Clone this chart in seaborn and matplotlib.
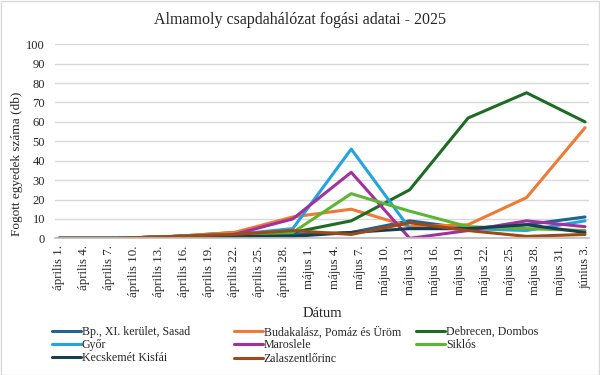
import pandas as pd
import matplotlib.pyplot as plt
import seaborn as sns
from matplotlib.patches import Rectangle

# weekly trap counts, 2025
dates = ['2025-04-01', '2025-04-08', '2025-04-15', '2025-04-22', '2025-04-29',
         '2025-05-06', '2025-05-13', '2025-05-20', '2025-05-27', '2025-06-03']

bp_sasad = [0, 0, 1, 3, 2, 3, 9, 5, 7, 11]
budakalasz = [0, 0, 1, 3, 11, 15, 6, 7, 21, 57]
debrecen = [0, 0, 1, 1, 3, 9, 25, 62, 75, 60]
gyor = [0, 0, 1, 2, 5, 46, 5, 5, 4, 9]
maroslele = [0, 0, 1, 2, 10, 34, 0, 4, 9, 6]
siklos = [0, 0, 1, 2, 3, 23, 14, 6, 5, 4]
kecskemet = [0, 0, 0, 1, 1, 3, 5, 5, 7, 3]
zalaszentlorinc = [0, 0, 1, 2, 4, 2, 8, 4, 1, 2]

sites = ['Bp., XI. kerület, Sasad', 'Budakalász, Pomáz és Üröm', 'Debrecen, Dombos',
         'Győr', 'Maroslele', 'Siklós', 'Kecskemét Kisfái', 'Zalaszentlőrinc']
counts = [bp_sasad, budakalasz, debrecen, gyor, maroslele, siklos, kecskemet, zalaszentlorinc]
colors = ['#1F6494', '#EE7A34', '#1E6B24', '#22A4DE', '#A3309E', '#5DB534', '#173E52', '#9E4A16']

tick_labels = ['április 1.', 'április 4.', 'április 7.', 'április 10.', 'április 13.',
               'április 16.', 'április 19.', 'április 22.', 'április 25.', 'április 28.',
               'május 1.', 'május 4.', 'május 7.', 'május 10.', 'május 13.', 'május 16.',
               'május 19.', 'május 22.', 'május 25.', 'május 28.', 'május 31.', 'június 3.']

start = pd.Timestamp('2025-04-01')
day = [(pd.Timestamp(d) - start).days for d in dates]

df = pd.DataFrame({
    'nap': day * len(sites),
    'db': sum(counts, []),
    'hely': [s for s in sites for _ in dates],
})

sns.set_theme(style="white")
plt.rcParams['font.family'] = ['Liberation Serif', 'DejaVu Serif']

fig, ax = plt.subplots(figsize=(6, 3.75), dpi=100)
fig.subplots_adjust(left=0.0913, right=0.982, top=0.882, bottom=0.3645)

sns.lineplot(data=df, x='nap', y='db', hue='hely', hue_order=sites,
             palette=dict(zip(sites, colors)), linewidth=2.2, ax=ax, legend=False)

ax.set_xlim(-0.5, 63.5)
ax.set_ylim(0, 100)
ax.set_yticks(range(0, 101, 10))
ax.tick_params(axis='y', labelsize=9, length=0, pad=7)
ax.set_xticks(range(0, 64, 3))
ax.set_xticklabels(tick_labels, rotation=90, fontsize=9.3)
ax.tick_params(axis='x', which='major', length=0, pad=5)
ax.set_xticks([x - 0.5 for x in range(0, 64, 3)], minor=True)
ax.tick_params(axis='x', which='minor', length=4, color='#BFBFBF', width=0.8, direction='out')
ax.grid(axis='y', color='#D9D9D9', linewidth=1)
for s in ['top', 'right', 'left']:
    ax.spines[s].set_visible(False)
ax.spines['bottom'].set_color('#BFBFBF')

ax.set_xlabel('Dátum', fontsize=10.5)
ax.xaxis.set_label_coords(0.5, -0.352)
ax.set_ylabel('Fogott egyedek száma (db)', fontsize=9.5)
ax.yaxis.set_label_coords(-0.06, 0.383)

fig.text(0.5, 0.947, 'Almamoly csapdahálózat fogási adatai - 2025', ha='center', va='center', fontsize=11.5)

# three legend columns, placed like the original
legend_cols = [[0, 3, 6], [1, 4, 7], [2, 5]]
col_x = [52 / 600, 234 / 600, 416 / 600]
for idx, x0 in zip(legend_cols, col_x):
    handles = [plt.Line2D([], [], color=colors[i], linewidth=2.2) for i in idx]
    leg = fig.legend(handles, [sites[i] for i in idx], loc='upper left',
                     bbox_to_anchor=(x0, 1 - 326 / 375), frameon=False, fontsize=8.6,
                     handlelength=2.4, handletextpad=0.1, labelspacing=0.1,
                     borderaxespad=0, borderpad=0)

fig.patches.append(Rectangle((0.001, 0.001), 0.998, 0.997, transform=fig.transFigure,
                             fill=False, edgecolor='#D9D9D9', linewidth=1))

plt.savefig('out.png', dpi=100)
